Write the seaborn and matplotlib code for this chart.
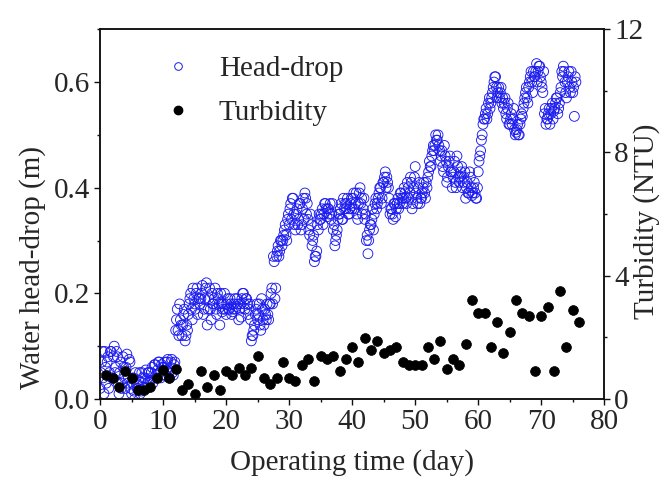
import numpy as np
import seaborn as sns
import matplotlib.pyplot as plt
from matplotlib.ticker import MultipleLocator
from matplotlib.lines import Line2D

# head-drop, read every quarter day (m), days 0, 0.25, 0.5 ...
headdrop = [
    0.02, 0.07, 0.04, 0.09,  0.03, 0.08, 0.05, 0.09,  0.04, 0.10, 0.06, 0.08,
    0.01, 0.07, 0.03, 0.06,  0.02, 0.085, 0.04, 0.07,  0.01, 0.04, 0.0, 0.03,
    0.02, 0.05, 0.015, 0.04,  0.02, 0.055, 0.03, 0.05,  0.035, 0.06, 0.04, 0.065,
    0.04, 0.07, 0.05, 0.065,  0.045, 0.07, 0.055, 0.075,  0.04, 0.07, 0.05, 0.065,
    0.13, 0.17, 0.12, 0.15,  0.12, 0.16, 0.11, 0.14,  0.16, 0.19, 0.17, 0.21,
    0.18, 0.20, 0.16, 0.19,  0.19, 0.215, 0.17, 0.21,  0.14, 0.19, 0.17, 0.20,
    0.18, 0.21, 0.16, 0.19,  0.14, 0.18, 0.17, 0.20,  0.16, 0.19, 0.17, 0.18,
    0.165, 0.18, 0.17, 0.19,  0.15, 0.18, 0.19, 0.20,  0.17, 0.19, 0.16, 0.18,
    0.11, 0.12, 0.14, 0.17,  0.15, 0.18, 0.13, 0.17,  0.14, 0.16, 0.18, 0.15,
    0.18, 0.21, 0.27, 0.19,  0.27, 0.29, 0.28, 0.30,  0.30, 0.32, 0.31, 0.34,
    0.33, 0.37, 0.38, 0.35,  0.32, 0.36, 0.34, 0.37,  0.33, 0.38, 0.39, 0.35,
    0.34, 0.31, 0.33, 0.30,  0.26, 0.27, 0.33, 0.35,  0.34, 0.36, 0.35, 0.37,
    0.345, 0.36, 0.37, 0.35,  0.32, 0.29, 0.31, 0.34,  0.35, 0.37, 0.34, 0.36,
    0.36, 0.38, 0.35, 0.37,  0.36, 0.39, 0.37, 0.35,  0.37, 0.40, 0.38, 0.36,
    0.34, 0.30, 0.275, 0.32,  0.33, 0.36, 0.35, 0.38,  0.37, 0.39, 0.40, 0.38,
    0.41, 0.43, 0.42, 0.40,  0.35, 0.36, 0.34, 0.37,  0.36, 0.38, 0.37, 0.39,
    0.37, 0.40, 0.38, 0.41,  0.38, 0.42, 0.36, 0.40,  0.44, 0.38, 0.40, 0.37,
    0.38, 0.40, 0.39, 0.41,  0.42, 0.45, 0.44, 0.47,  0.47, 0.50, 0.49, 0.48,
    0.45, 0.47, 0.43, 0.46,  0.41, 0.44, 0.46, 0.43,  0.42, 0.45, 0.40, 0.44,
    0.41, 0.43, 0.40, 0.42,  0.38, 0.41, 0.39, 0.42,  0.385, 0.40, 0.39, 0.38,
    0.43, 0.46, 0.49, 0.52,  0.53, 0.55, 0.54, 0.57,  0.56, 0.58, 0.60, 0.61,
    0.57, 0.59, 0.58, 0.56,  0.55, 0.57, 0.53, 0.56,  0.52, 0.54, 0.53, 0.51,
    0.505, 0.52, 0.50, 0.53,  0.535, 0.56, 0.58, 0.57,  0.59, 0.61, 0.60, 0.62,
    0.61, 0.635, 0.62, 0.63,  0.60, 0.58, 0.54, 0.52,  0.53, 0.55, 0.54, 0.56,
    0.545, 0.56, 0.57, 0.55,  0.58, 0.62, 0.63, 0.60,  0.57, 0.61, 0.59, 0.62,
    0.58, 0.535, 0.60,
]
# second set of readings, in between (days 0.125, 0.375 ...)
headdrop_b = [
    0.05, 0.09, 0.01, 0.06,  0.07, 0.02, 0.09, 0.04,  0.08, 0.05, 0.09, 0.03,
    0.05, 0.02, 0.08, 0.04,  0.06, 0.03, 0.075, 0.02,  0.03, 0.015, 0.05, 0.02,
    0.035, 0.01, 0.05, 0.03,  0.04, 0.02, 0.05, 0.035,  0.05, 0.03, 0.065, 0.045,
    0.055, 0.07, 0.04, 0.06,  0.06, 0.045, 0.07, 0.05,  0.06, 0.075, 0.045, 0.07,
    0.15, 0.13, 0.18, 0.14,  0.14, 0.17, 0.12, 0.13,  0.18, 0.20, 0.15, 0.19,
    0.17, 0.21, 0.19, 0.18,  0.20, 0.16, 0.19, 0.22,  0.17, 0.21, 0.15, 0.18,
    0.19, 0.17, 0.20, 0.18,  0.20, 0.165, 0.18, 0.17,  0.18, 0.17, 0.19, 0.16,
    0.17, 0.19, 0.175, 0.18,  0.17, 0.155, 0.20, 0.18,  0.19, 0.18, 0.17, 0.15,
    0.12, 0.13, 0.16, 0.18,  0.16, 0.14, 0.19, 0.15,  0.17, 0.15, 0.16, 0.18,
    0.20, 0.18, 0.26, 0.21,  0.28, 0.27, 0.30, 0.29,  0.31, 0.33, 0.30, 0.35,
    0.36, 0.34, 0.38, 0.33,  0.35, 0.33, 0.37, 0.32,  0.36, 0.34, 0.38, 0.37,
    0.32, 0.35, 0.29, 0.31,  0.27, 0.28, 0.32, 0.34,  0.35, 0.33, 0.37, 0.36,
    0.36, 0.35, 0.34, 0.37,  0.33, 0.30, 0.32, 0.35,  0.36, 0.34, 0.38, 0.37,
    0.37, 0.35, 0.36, 0.38,  0.38, 0.36, 0.39, 0.34,  0.39, 0.37, 0.35, 0.38,
    0.35, 0.31, 0.30, 0.33,  0.34, 0.32, 0.37, 0.36,  0.38, 0.40, 0.37, 0.41,
    0.42, 0.40, 0.41, 0.38,  0.36, 0.35, 0.37, 0.345,  0.37, 0.36, 0.39, 0.38,
    0.38, 0.39, 0.37, 0.40,  0.39, 0.41, 0.37, 0.42,  0.39, 0.37, 0.41, 0.38,
    0.39, 0.41, 0.38, 0.40,  0.43, 0.44, 0.46, 0.48,  0.48, 0.49, 0.50, 0.47,
    0.46, 0.44, 0.48, 0.45,  0.42, 0.45, 0.43, 0.40,  0.43, 0.41, 0.46, 0.42,
    0.42, 0.44, 0.41, 0.43,  0.40, 0.39, 0.43, 0.40,  0.39, 0.41, 0.38, 0.40,
    0.45, 0.47, 0.50, 0.53,  0.54, 0.53, 0.56, 0.55,  0.57, 0.59, 0.61, 0.59,
    0.58, 0.57, 0.59, 0.57,  0.56, 0.54, 0.55, 0.52,  0.53, 0.52, 0.55, 0.50,
    0.51, 0.50, 0.52, 0.54,  0.55, 0.57, 0.59, 0.56,  0.60, 0.62, 0.58, 0.61,
    0.62, 0.60, 0.63, 0.61,  0.59, 0.62, 0.55, 0.53,  0.54, 0.52, 0.55, 0.53,
    0.55, 0.57, 0.54, 0.56,  0.59, 0.61, 0.62, 0.58,  0.60, 0.62, 0.58, 0.60,
    0.59, 0.61,
]
hd_day = np.arange(len(headdrop)) * 0.25
hd_day_b = np.arange(len(headdrop_b)) * 0.25 + 0.125

# turbidity, one sample per day (NTU)
turb_day = list(range(1, 77))
turbidity = [
    0.77, 0.69, 0.39, 0.91, 0.69, 0.30, 0.30, 0.39, 0.69, 0.93,
    0.69, 0.98, 0.30, 0.49, 0.17, 0.91, 0.39, 0.77, 0.30, 0.91,
    0.77, 1.00, 0.77, 1.00, 1.38, 0.69, 0.49, 0.69, 1.19, 0.69,
    0.60, 1.09, 1.29, 0.60, 1.38, 1.29, 1.38, 0.91, 1.29, 1.68,
    1.19, 1.99, 1.59, 1.89, 1.49, 1.59, 1.68, 1.19, 1.09, 1.09,
    1.09, 1.68, 1.29, 1.89, 0.98, 1.29, 1.09, 1.79, 3.20, 2.80,
    2.80, 1.68, 2.49, 1.49, 2.19, 3.20, 2.80, 2.70, 0.91, 2.70,
    3.00, 0.91, 3.50, 1.68, 2.89, 2.49,
]

sns.set_style("ticks")
plt.rcParams['font.family'] = ['Liberation Serif', 'DejaVu Serif']
plt.rcParams['xtick.direction'] = 'out'
plt.rcParams['ytick.direction'] = 'out'

fig = plt.figure(figsize=(6.67, 4.79), dpi=100)
ax = fig.add_axes([0.15, 0.167, 0.756, 0.772])
ax2 = ax.twinx()

blue = '#1a1af0'
x_hd = np.concatenate([hd_day, hd_day_b])
y_hd = np.concatenate([headdrop, headdrop_b])
sns.scatterplot(x=x_hd, y=y_hd, ax=ax, marker='o', s=50,
                facecolors='none', edgecolors=blue, linewidths=0.65, legend=False)
sns.scatterplot(x=turb_day, y=turbidity, ax=ax2, marker='o', s=50,
                color='black', edgecolor='black', linewidth=0.5, legend=False)

ax.set_xlim(0, 80)
ax.set_ylim(0, 0.7)
ax2.set_ylim(0, 12)
ax.xaxis.set_major_locator(MultipleLocator(10))
ax.xaxis.set_minor_locator(MultipleLocator(5))
ax.yaxis.set_major_locator(MultipleLocator(0.2))
ax.yaxis.set_minor_locator(MultipleLocator(0.1))
ax2.yaxis.set_major_locator(MultipleLocator(4))
ax2.yaxis.set_minor_locator(MultipleLocator(2))
ax.set_yticks([0.0, 0.2, 0.4, 0.6])
ax.set_yticklabels(["0.0", "0.2", "0.4", "0.6"])

fs = 21
for a in (ax, ax2):
    a.tick_params(which='major', length=4.5, width=1, labelsize=fs, color='#111111', pad=2.5)
    a.tick_params(which='minor', length=2.5, width=1, color='#111111')
    for s in a.spines.values():
        s.set_linewidth(1.1)
        s.set_color('#111111')

ax.set_xlabel("Operating time (day)", fontsize=fs, labelpad=10)
ax.set_ylabel("Water head-drop (m)", fontsize=fs)
ax2.set_ylabel("Turbidity (NTU)", fontsize=fs)
ax.yaxis.set_label_coords(-0.107, 0.355)
ax2.yaxis.set_label_coords(1.058, 0.48)

handles = [
    Line2D([], [], linestyle='none', marker='o', markersize=5.5,
           markerfacecolor='none', markeredgecolor=blue, markeredgewidth=0.7),
    Line2D([], [], linestyle='none', marker='o', markersize=6,
           markerfacecolor='black', markeredgecolor='black'),
]
ax2.legend(handles, ["Head-drop", "Turbidity"], loc='upper left',
           bbox_to_anchor=(0.068, 0.999), frameon=False, fontsize=fs,
           labelspacing=0.6, handletextpad=0.8, handlelength=1.2)

fig.savefig("out.png", dpi=100)
